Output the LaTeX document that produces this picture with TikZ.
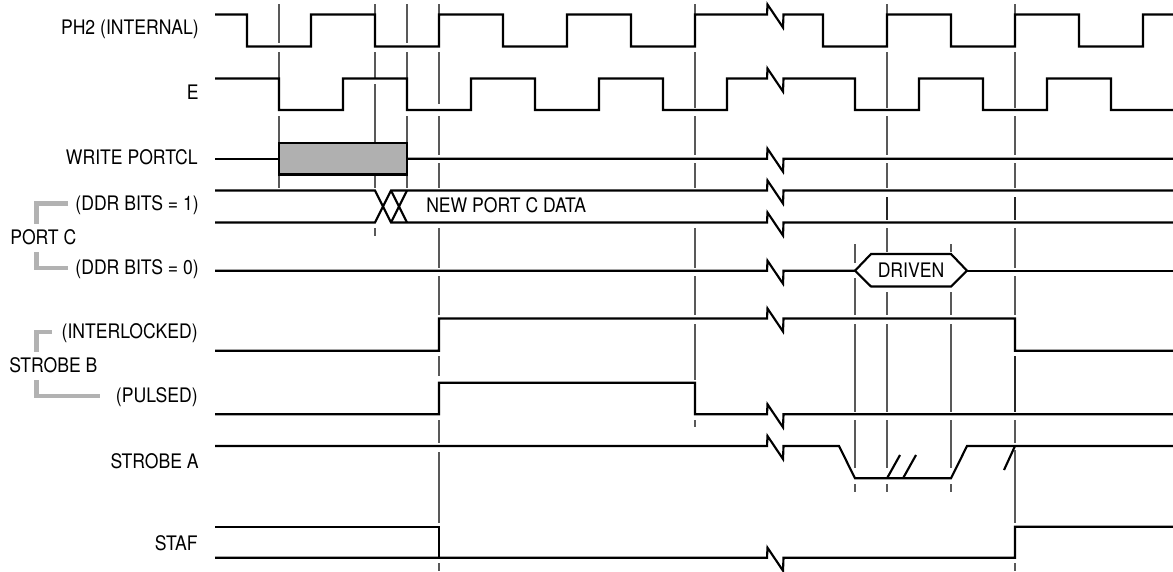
\documentclass[tikz,border=0pt]{standalone}
\usepackage{fontspec}
\setmainfont[FakeStretch=0.88]{TeX Gyre Heros}
\usepackage{tikz}
\usetikzlibrary{positioning}
\colorlet{TickLine}{black!65}
\colorlet{BraceLine}{black!30}
\colorlet{BoxFill}{black!31}

% break mark on a signal at height #1
\newcommand{\brk}[1]{(767,#1) -- (767.5,#1-10) -- (783,#1+13) -- (783.5,#1)}

\begin{document}
\begin{tikzpicture}[
    x=0.75pt, y=-0.75pt,
    wave/.style={line width=1.6pt, line join=miter, black},
    tick/.style={line width=1pt, TickLine},
    solidtick/.style={line width=1.6pt, black!85},
    brace/.style={line width=3.2pt, BraceLine, line join=miter},
    sig/.style={font=\fontsize{15}{16}\selectfont, anchor=east, inner sep=0pt},
    grp/.style={font=\fontsize{15}{16}\selectfont, anchor=west, inner sep=0pt}
]
\useasboundingbox (0,0) rectangle (1173,571);

% Alignment ticks
\foreach \x/\a/\b in {
    279/4/43, 279/52/78, 279/116/143, 279/175/188,
    375/4/14, 375/52/78, 375/84/142, 375/175/188, 375/228/236,
    407/4/43, 407/52/78, 407/116/143, 407/175/188,
    439/4/14, 439/52/104, 439/116/155, 439/163/188, 439/228/268, 439/276/315,
    439/356/376, 439/420/443, 439/452/523, 439/563/571,
    695/4/14, 695/52/108, 695/116/155, 695/163/188, 695/228/268, 695/276/315,
    695/324/380, 695/420/427,
    855/244/263, 855/278/315, 855/324/412, 855/420/468, 855/484/492,
    887/4/14, 887/52/108, 887/116/155, 887/163/188, 887/228/252,
    887/292/315, 887/324/412, 887/420/468, 887/484/492,
    951/244/252, 951/292/315, 951/324/412, 951/420/468, 951/484/492,
    1015/4/14, 1015/52/108, 1015/116/155, 1015/163/188, 1015/228/268,
    1015/276/315, 1015/420/443, 1015/450/523, 1015/563/571} {
    \draw[tick] (\x,\a) -- (\x,\b);
}
\foreach \x/\a/\b in {887/197/220, 1015/197/220, 1015/356/412} {
    \draw[solidtick] (\x,\a) -- (\x,\b);
}

% Clocks
\draw[wave] (215,14.5) -- (247,14.5) -- (247,46.5) -- (311,46.5) -- (311,14.5)
    -- (375,14.5) -- (375,46.5) -- (439,46.5) -- (439,14.5) -- (503,14.5)
    -- (503,46.5) -- (567,46.5) -- (567,14.5) -- (631,14.5) -- (631,46.5)
    -- (695,46.5) -- (695,14.5) -- \brk{14.5} -- (823,14.5) -- (823,46.5)
    -- (887,46.5) -- (887,14.5) -- (951,14.5) -- (951,46.5) -- (1015,46.5)
    -- (1015,14.5) -- (1079,14.5) -- (1079,46.5) -- (1143,46.5) -- (1143,14.5)
    -- (1173,14.5);
\draw[wave] (215,78.5) -- (279,78.5) -- (279,110) -- (343,110) -- (343,78.5)
    -- (407,78.5) -- (407,110) -- (471,110) -- (471,78.5) -- (535,78.5)
    -- (535,110) -- (599,110) -- (599,78.5) -- (663,78.5) -- (663,110)
    -- (727,110) -- (727,78.5) -- \brk{78.5} -- (855,78.5) -- (855,110)
    -- (919,110) -- (919,78.5) -- (983,78.5) -- (983,110) -- (1047,110)
    -- (1047,78.5) -- (1111,78.5) -- (1111,110) -- (1173,110);

% Write pulse
\draw[wave, fill=BoxFill] (279,143) rectangle (407,174.5);
\draw[wave] (215,158.7) -- (279,158.7);
\draw[wave] (407,158.7) -- \brk{158.7} -- (1173,158.7);

% Port C
\draw[wave] (215,190.5) -- (375,190.5) -- (391,222.5) -- \brk{222.5} -- (1173,222.5);
\draw[wave] (215,222.5) -- (375,222.5) -- (391,190.5) -- \brk{190.5} -- (1173,190.5);
\draw[wave] (391,190.5) -- (407,222.5);
\draw[wave] (391,222.5) -- (407,190.5);
\draw[wave] (215,270.7) -- \brk{270.7} -- (855,270.7);
\draw[wave] (855,270.7) -- (871,254) -- (951,254) -- (967,270.7) -- (951,286.5)
    -- (871,286.5) -- cycle;
\draw[wave] (967,270.7) -- (1173,270.7);

% Strobes
\draw[wave] (215,350.7) -- (439,350.7) -- (439,318.5) -- \brk{318.5}
    -- (1015,318.5) -- (1015,350.7) -- (1173,350.7);
\draw[wave] (215,414.3) -- (439,414.3) -- (439,382.7) -- (695,382.7) -- (695,414.3)
    -- \brk{414.3} -- (1173,414.3);
\draw[wave] (215,446) -- \brk{446} -- (839,446) -- (855,478.3) -- (951,478.3)
    -- (967,446) -- (1173,446);
\draw[wave] (887,478.3) -- (900,455);
\draw[wave] (903,478.3) -- (916,455);
\draw[wave] (1015,446) -- (1004,470);

% STAF
\draw[wave] (215,526.7) -- (439,526.7) -- (439,557.7);
\draw[wave] (215,557.7) -- \brk{557.7} -- (1015,557.7) -- (1015,526.7) -- (1173,526.7);

% Labels
\node[sig] (ph2) at (199,29) {PH2 (INTERNAL)};
\node[sig] (e) at (199,92) {E};
\node[sig] (write) at (198,157) {WRITE PORTCL};
\node[sig] (ddrone) at (199,205) {(DDR BITS = 1)};
\node[grp] (portc) at (10,237) {PORT C};
\node[sig] (ddrzero) at (199,269) {(DDR BITS = 0)};
\node[sig] (inter) at (198,333) {(INTERLOCKED)};
\node[grp] (strobeb) at (9,365) {STROBE B};
\node[sig] (pulsed) at (198,397) {(PULSED)};
\node[sig] (strobea) at (199,461) {STROBE A};
\node[sig] (staf) at (198,543) {STAF};
\node[grp] (newdata) at (426,205) {NEW PORT C DATA};
\node[font=\fontsize{15}{16}\selectfont, inner sep=0pt] (driven) at (911,270) {DRIVEN};

% Group brackets
\draw[brace] (68,203.5) -- (36.5,203.5) -- (36.5,224);
\draw[brace] (36.5,252) -- (36.5,268) -- (68,268);
\draw[brace] (52,331.7) -- (36.5,331.7) -- (36.5,352);
\draw[brace] (36.5,380) -- (36.5,396) -- (100,396);

\end{tikzpicture}
\end{document}
